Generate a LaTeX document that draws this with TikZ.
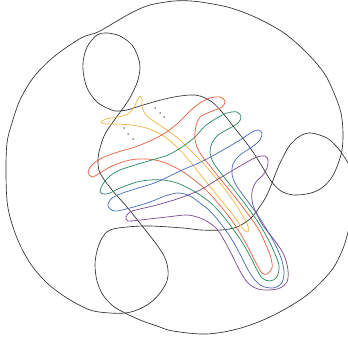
\documentclass[tikz,border=0pt]{standalone}
\definecolor{kred}{RGB}{233,92,62}
\definecolor{kgreen}{RGB}{34,139,90}
\definecolor{kblue}{RGB}{66,106,189}
\definecolor{kpurple}{RGB}{118,72,140}
\definecolor{kyellow}{RGB}{245,178,62}
\definecolor{kblack}{RGB}{45,45,45}
\begin{document}
\begin{tikzpicture}[x=1pt,y=-1pt,
  knot/.style={draw=kblack,line width=0.65pt},
  finger/.style={line width=0.7pt},
  dotmark/.style={fill=kblack}]
\useasboundingbox (0,0) rectangle (348,337);
\clip (0,0) rectangle (348,337);
% black curves
\draw[knot] plot[smooth cycle,tension=0.55] coordinates {
(174,1) (191,1) (207,3) (231,8) (257,18) (284,33) (307,53) (324,73) (334,93) (341,113) (343,133) (342,150) (338,164) (332,177) (323,187) (311,193) (294,195) (281,191) (271,181) (263,168) (255,155) (245,141) (233,126) (222,112) (212,102) (200,96) (190,95) (174,97) (157,101) (140,106) (127,110) (115,111) (107,108) (97,102) (88,90) (84,77) (83,63) (87,47) (97,35) (107,33) (120,36) (132,45) (138,57) (140,67) (138,80) (133,92) (128,101) (121,111) (113,122) (105,134) (100,148) (98,160) (100,173) (112,190) (127,207) (143,227) (157,245) (165,258) (168,270) (167,281) (160,293) (150,303) (137,310) (125,313) (110,313) (90,310) (67,298) (47,283) (30,263) (17,238) (8,208) (6,175) (7,143) (12,123) (20,100) (33,78) (50,60) (67,47) (83,37) (98,32) (117,21) (133,12) (150,5)};
\draw[knot] plot[smooth cycle,tension=0.55] coordinates {
(311,133) (327,138) (337,147) (343,155) (349,165) (354,180) (353,205) (348,232) (342,251) (331,271) (307,295) (274,315) (241,328) (207,334) (173,331) (157,326) (140,320) (125,313) (113,306) (103,295) (97,281) (95,265) (97,251) (102,238) (110,230) (127,227) (150,226) (183,228) (201,230) (221,230) (237,227) (251,218) (261,205) (267,195) (272,183) (277,170) (283,157) (290,145) (300,136)};
% coloured curves
\draw[finger,kyellow] plot[smooth cycle,tension=0.5] coordinates {
(101,122) (106,119) (118,117) (128,114) (134,107) (138,99) (140,96) (142,99) (142,107) (146,115) (155,122) (167,130) (180,140) (192,152) (203,163) (215,177) (227,192) (238,208) (245,220) (249,229) (247,232) (243,229) (236,219) (225,205) (212,189) (200,174) (188,159) (177,147) (165,137) (152,130) (138,126) (120,124) (106,124)};
\draw[finger,kred] plot[smooth cycle,tension=0.55] coordinates {
(88,172) (92,165) (102,158) (118,152) (135,147) (152,140) (165,133) (178,123) (190,111) (200,103) (210,98) (220,97) (225,101) (222,107) (210,112) (200,117) (196,126) (195,140) (200,153) (210,166) (222,181) (235,197) (248,214) (259,230) (266,245) (271,258) (272,268) (267,274) (262,273) (256,263) (249,249) (240,233) (230,218) (218,203) (206,190) (193,179) (180,170) (163,162) (147,159) (130,160) (112,166) (100,173) (92,177)};
\draw[finger,kgreen] plot[smooth cycle,tension=0.55] coordinates {
(100,191) (103,184) (110,176) (120,170) (135,165) (152,160) (168,155) (182,147) (195,137) (205,126) (217,118) (227,113) (237,112) (241,117) (238,123) (230,128) (218,135) (212,143) (210,152) (213,162) (220,172) (232,187) (245,204) (258,222) (268,239) (275,254) (279,266) (277,277) (270,281) (262,278) (256,268) (250,256) (242,242) (233,229) (224,217) (213,205) (203,197) (190,189) (177,183) (163,180) (150,180) (137,182) (120,188) (110,193) (103,194)};
\draw[finger,kblue] plot[smooth cycle,tension=0.55] coordinates {
(108,206) (111,199) (120,194) (135,189) (157,182) (180,171) (203,161) (223,150) (240,140) (252,132) (258,130) (262,133) (260,140) (252,147) (240,155) (233,164) (232,174) (236,185) (246,199) (257,214) (267,230) (276,246) (282,261) (284,274) (281,284) (273,288) (262,286) (254,279) (247,268) (240,254) (231,238) (221,224) (210,211) (200,203) (190,196) (178,193) (165,196) (150,202) (130,208) (115,211)};
\draw[finger,kpurple] plot[smooth cycle,tension=0.55] coordinates {
(126,217) (130,212) (140,209) (157,205) (180,198) (200,190) (215,181) (230,172) (247,162) (257,157) (265,156) (268,160) (267,168) (263,175) (256,182) (252,192) (253,205) (262,224) (275,241) (284,255) (288,270) (287,282) (280,288) (270,290) (258,289) (248,283) (240,271) (232,255) (224,240) (217,229) (208,222) (200,218) (187,215) (167,217) (140,220) (128,221)};
% dots
\foreach \p in {(155,108),(160,113),(164,117),(124,128),(128,134),(133,139)}
  \fill[dotmark] \p circle (0.75pt);
\end{tikzpicture}
\end{document}
